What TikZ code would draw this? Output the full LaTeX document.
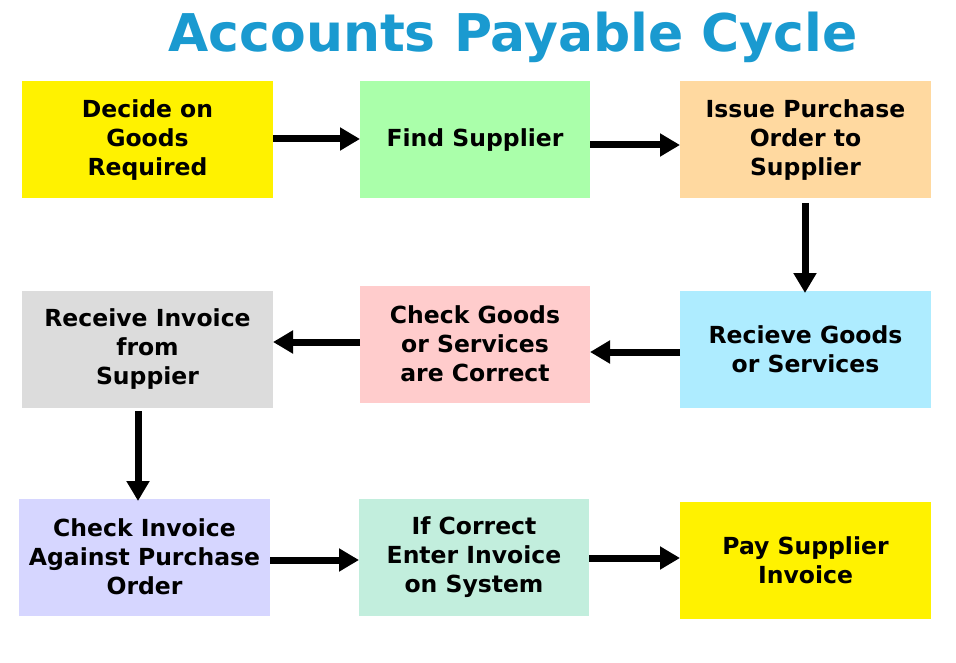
\documentclass[tikz,border=0pt]{standalone}
\usepackage{fontspec}
\setmainfont{DejaVu Sans}
\usetikzlibrary{arrows.meta}
\definecolor{ttl}{HTML}{1A9AD0}
\tikzset{
 box/.style={draw=none,minimum width=#1,minimum height=117pt,inner sep=0pt,align=center,font=\fontsize{23.5}{29}\selectfont\bfseries},
 box/.default=251pt,
 arr/.style={line width=7pt,-{Triangle[length=20pt,width=22pt]}}
}
\begin{document}
\begin{tikzpicture}[x=1pt,y=-1pt]
\useasboundingbox (0,0) rectangle (956,663);
\node[font=\fontsize{52}{58}\selectfont\bfseries,text=ttl] (t) at (513,37) {Accounts Payable Cycle};
\node[box,fill={rgb,255:red,255;green,242;blue,0}] (A) at (147.5,140) {Decide on\\Goods\\ Required};
\node[box=230pt,fill={rgb,255:red,170;green,255;blue,170}] (B) at (475,140) {Find Supplier};
\node[box,fill={rgb,255:red,255;green,217;blue,160}] (C) at (805.5,140) {Issue Purchase\\Order to\\Supplier};
\node[box,fill={rgb,255:red,220;green,220;blue,220}] (D) at (147.5,349) {Receive Invoice\\from\\Suppier};
\node[box=230pt,fill={rgb,255:red,255;green,204;blue,204}] (E) at (475,344) {Check Goods\\or Services\\are Correct};
\node[box,fill={rgb,255:red,174;green,236;blue,255}] (F) at (805.5,349) {Recieve Goods\\or Services};
\node[box,fill={rgb,255:red,214;green,214;blue,255}] (G) at (144.5,557) {Check Invoice\\Against Purchase\\Order};
\node[box=230pt,fill={rgb,255:red,194;green,238;blue,221}] (H) at (474,557) {If Correct\\Enter Invoice\\on System};
\node[box,fill={rgb,255:red,255;green,242;blue,0}] (I) at (805.5,560) {Pay Supplier\\Invoice};
\path (A.north west) ++(0,5.5) coordinate (a); \draw[draw=none] (a);
\draw[arr] (273,139) -- (360,139);
\draw[arr] (590,145) -- (680,145);
\draw[arr] (805,203) -- (805,293);
\draw[arr] (680,352) -- (590,352);
\draw[arr] (360,342) -- (273,342);
\draw[arr] (138,411) -- (138,501);
\draw[arr] (270,560) -- (359,560);
\draw[arr] (589,558) -- (680,558);
\end{tikzpicture}
\end{document}
